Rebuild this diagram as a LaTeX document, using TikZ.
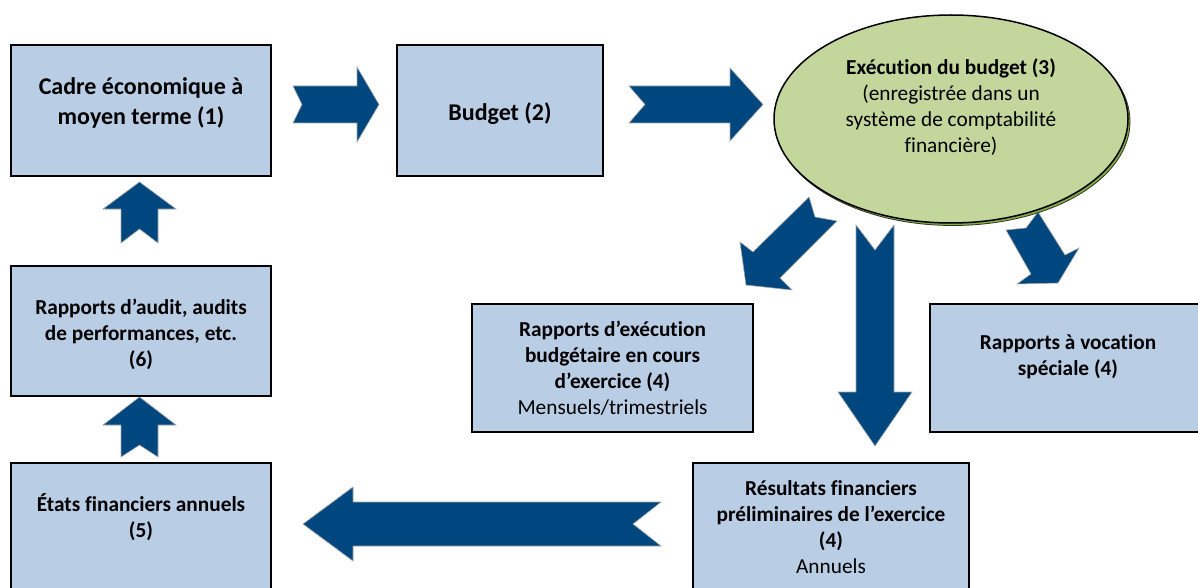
\documentclass[tikz,border=0pt]{standalone}
\usepackage{fontspec}
\setmainfont{Carlito}[Ligatures={TeX,NoCommon}]
\usetikzlibrary{shapes.geometric}
\definecolor{boxfill}{RGB}{185,205,229}
\definecolor{ellfill}{RGB}{195,214,155}
\definecolor{ellshadow}{RGB}{130,175,65}
\definecolor{arrblue}{RGB}{0,71,128}
\begin{document}
\begin{tikzpicture}[x=1pt,y=-1pt,
  box/.style={draw=black, line width=1.5pt, fill=boxfill, rectangle, inner sep=0pt},
  txt/.style={align=center, font=\fontsize{21.3}{26}\selectfont, inner sep=0pt, text=black},
  bigtxt/.style={align=center, font=\fontsize{24}{30}\selectfont, inner sep=0pt, text=black},
  blockarrow/.style={fill=arrblue, draw=gray!70, line width=0.6pt, line join=miter}]
\useasboundingbox (0,0) rectangle (1198,588);

% block arrows
\filldraw[blockarrow] (293,86) -- (357,86) -- (357,67) -- (379,104.5) -- (357,142) -- (357,123) -- (293,123) -- (302,104.5) -- cycle;
\filldraw[blockarrow] (629,86) -- (730,86) -- (730,68) -- (763,104.5) -- (730,141) -- (730,123) -- (629,123) -- (645,104.5) -- cycle;
\filldraw[blockarrow] (121,243) -- (139.5,229) -- (158,243) -- (158,209) -- (176,209) -- (139.5,182) -- (103,209) -- (121,209) -- cycle;
\filldraw[blockarrow] (121,457) -- (139.5,445) -- (158,457) -- (158,425) -- (176,425) -- (139.5,397) -- (103,425) -- (121,425) -- cycle;
\filldraw[blockarrow] (661,502) -- (353,502) -- (353,487) -- (303,524) -- (353,561) -- (353,546) -- (661,546) -- (633,524) -- cycle;
\filldraw[blockarrow] (856,225) -- (875,250) -- (894,225) -- (894,392) -- (912,392) -- (875,446) -- (838,392) -- (856,392) -- cycle;
\filldraw[blockarrow] (809,197) -- (753,252) -- (740,242) -- (746,285) -- (792,290) -- (780,278) -- (837,221) -- (815,217) -- cycle;
\filldraw[blockarrow] (1006,230) -- (1031,274) -- (1017,284) -- (1058,283) -- (1079,248) -- (1065,255) -- (1038,212) -- (1026,228) -- cycle;

% ellipse
\node[ellipse, draw=black!80, line width=0.8pt, fill=ellshadow, minimum width=354, minimum height=208, inner sep=0pt] (e3s) at (953,121.5) {};
\node[ellipse, draw=black, line width=1.5pt, fill=ellfill, minimum width=354, minimum height=208, inner sep=0pt] (e3) at (951,119) {};
\node[txt] (t3) at (951,107) {\textbf{Exécution du budget (3)}\\(enregistrée dans un\\système de comptabilité\\financière)};

% boxes
\node[box, minimum width=260, minimum height=131] (b1) at (141,110.5) {};
\node[bigtxt] (t1) at (141,103) {\textbf{Cadre économique à}\\\textbf{moyen terme (1)}};

\node[box, minimum width=206, minimum height=131] (b2) at (500,110.5) {};
\node[bigtxt] (t2) at (500,114) {\textbf{Budget (2)}};

\node[box, minimum width=281, minimum height=128] (b4a) at (612.5,368) {};
\node[txt] (t4a) at (612.5,368) {\textbf{Rapports d’exécution}\\\textbf{budgétaire en cours}\\\textbf{d’exercice (4)}\\Mensuels/trimestriels};

\node[box, minimum width=276, minimum height=128] (b4c) at (1068,368) {};
\node[txt] (t4c) at (1068,357) {\textbf{Rapports à vocation}\\\textbf{spéciale (4)}};

\node[box, minimum width=276, minimum height=137] (b4b) at (831,531.5) {};
\node[txt] (t4b) at (831,527) {\textbf{Résultats financiers}\\\textbf{préliminaires de l’exercice}\\\textbf{(4)}\\Annuels};

\node[box, minimum width=260, minimum height=137] (b5) at (141,531.5) {};
\node[txt] (t5) at (141,517.5) {\textbf{États financiers annuels}\\\textbf{(5)}};

\node[box, minimum width=260, minimum height=130] (b6) at (141,331) {};
\node[txt] (t6) at (141,334) {\textbf{Rapports d’audit, audits}\\\textbf{de performances, etc.}\\\textbf{(6)}};
\end{tikzpicture}
\end{document}
